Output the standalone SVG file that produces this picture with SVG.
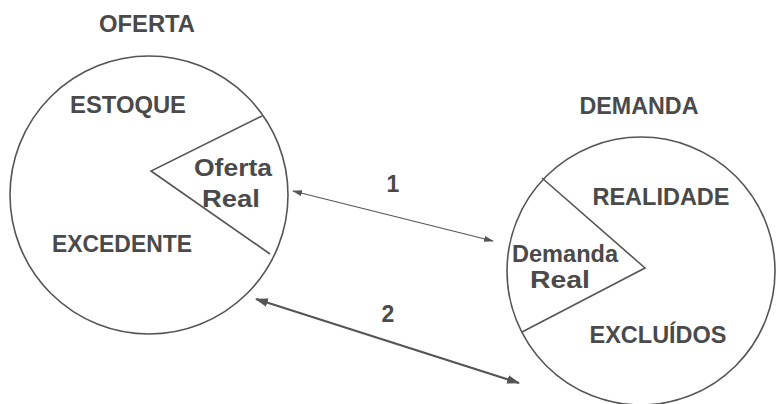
<svg xmlns="http://www.w3.org/2000/svg" width="777" height="404" viewBox="0 0 777 404">
<style>
.bg{fill:#fff}
.c{fill:none;stroke:#555;stroke-width:1.6}
.w{fill:none;stroke:#555;stroke-width:1.6;stroke-linejoin:miter}
.t{font-family:"Liberation Sans",Arial,sans-serif;font-weight:bold;fill:#4a4a4a;font-size:23px}
.l{font-size:24.5px}
.a1{stroke:#555;stroke-width:1.2;fill:none}
.a2{stroke:#555;stroke-width:2.2;fill:none}
</style>
<defs>
<marker id="h1" viewBox="0 0 10 6" refX="9" refY="3" markerWidth="10" markerHeight="6" markerUnits="userSpaceOnUse" orient="auto-start-reverse"><path d="M0,0 L10,3 L0,6 Z" fill="#555"/></marker>
<marker id="h2" viewBox="0 0 12 8" refX="11" refY="4" markerWidth="13" markerHeight="9" markerUnits="userSpaceOnUse" orient="auto-start-reverse"><path d="M0,0 L12,4 L0,8 Z" fill="#555"/></marker>
</defs>
<rect class="bg" width="777" height="404"/>
<g id="oferta">
<text class="t" x="147" y="32" text-anchor="middle" textLength="96" lengthAdjust="spacingAndGlyphs">OFERTA</text>
<circle class="c" cx="149" cy="195" r="139"/>
<path class="w" d="M262,116 L151,171 L270,254"/>
<text class="t" x="128" y="113" text-anchor="middle" textLength="116" lengthAdjust="spacingAndGlyphs">ESTOQUE</text>
<text class="t l" x="233" y="176" text-anchor="middle" textLength="78" lengthAdjust="spacingAndGlyphs">Oferta</text>
<text class="t l" x="231" y="207" text-anchor="middle" textLength="58" lengthAdjust="spacingAndGlyphs">Real</text>
<text class="t" x="122" y="252" text-anchor="middle" textLength="140" lengthAdjust="spacingAndGlyphs">EXCEDENTE</text>
</g>
<g id="demanda">
<text class="t" x="639" y="114" text-anchor="middle" textLength="119" lengthAdjust="spacingAndGlyphs">DEMANDA</text>
<circle class="c" cx="641" cy="271" r="134"/>
<path class="w" d="M542,178 L645,268 L522,332"/>
<text class="t" x="661" y="205" text-anchor="middle" textLength="137" lengthAdjust="spacingAndGlyphs">REALIDADE</text>
<text class="t l" x="565" y="262" text-anchor="middle" textLength="106" lengthAdjust="spacingAndGlyphs">Demanda</text>
<text class="t l" x="560" y="288" text-anchor="middle" textLength="60" lengthAdjust="spacingAndGlyphs">Real</text>
<text class="t" x="658" y="343" text-anchor="middle" textLength="137" lengthAdjust="spacingAndGlyphs">EXCLUÍDOS</text>
</g>
<g id="connectors">
<line class="a1" x1="293" y1="191" x2="493" y2="241" marker-start="url(#h1)" marker-end="url(#h1)"/>
<text class="t" x="393" y="192" text-anchor="middle">1</text>
<line class="a2" x1="256" y1="299" x2="519" y2="383" marker-start="url(#h2)" marker-end="url(#h2)"/>
<text class="t" x="388" y="322" text-anchor="middle">2</text>
</g>
</svg>
